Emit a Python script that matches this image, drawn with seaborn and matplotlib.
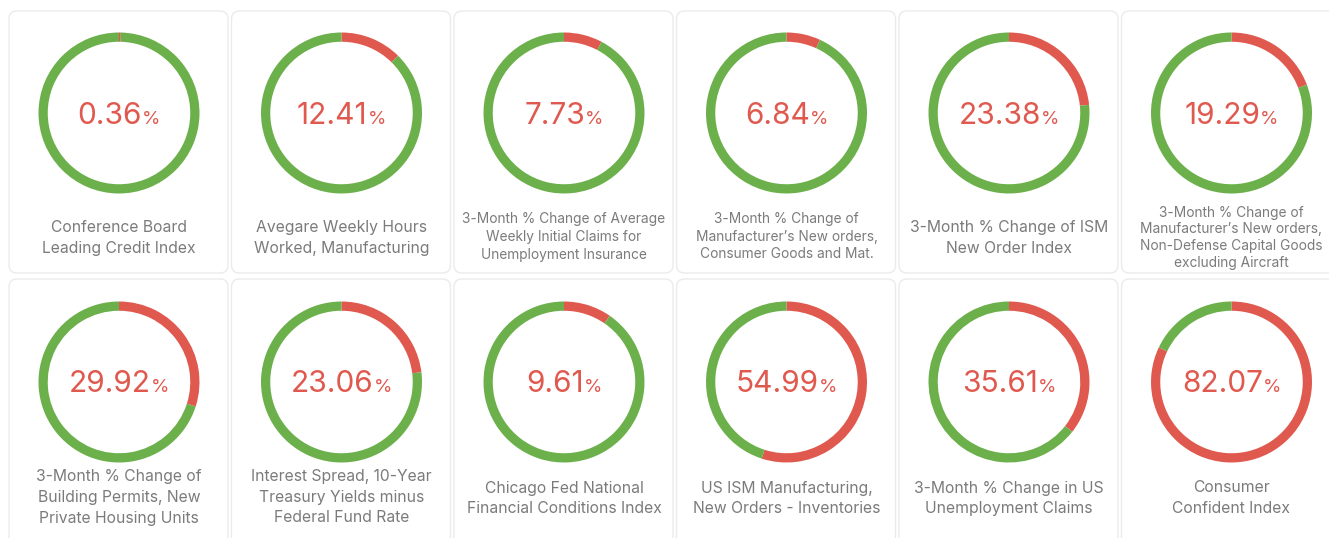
import matplotlib
matplotlib.use("Agg")
import matplotlib.pyplot as plt
import seaborn as sns
from matplotlib.patches import FancyBboxPatch

# share of each indicator that is red (rest is green)
values = [0.36, 12.41, 7.73, 6.84, 23.38, 19.29,
          29.92, 23.06, 9.61, 54.99, 35.61, 82.07]
labels = [
    "Conference Board\nLeading Credit Index",
    "Avegare Weekly Hours\nWorked, Manufacturing",
    "3-Month % Change of Average\nWeekly Initial Claims for\nUnemployment Insurance",
    "3-Month % Change of\nManufacturer\u2019s New orders,\nConsumer Goods and Mat.",
    "3-Month % Change of ISM\nNew Order Index",
    "3-Month % Change of\nManufacturer\u2019s New orders,\nNon-Defense Capital Goods\nexcluding Aircraft",
    "3-Month % Change of\nBuilding Permits, New\nPrivate Housing Units",
    "Interest Spread, 10-Year\nTreasury Yields minus\nFederal Fund Rate",
    "Chicago Fed National\nFinancial Conditions Index",
    "US ISM Manufacturing,\nNew Orders - Inventories",
    "3-Month % Change in US\nUnemployment Claims",
    "Consumer\nConfident Index",
]

RED = "#e0594f"
GREEN = "#6cb04b"
GREY = "#7b7b7b"

sns.set_theme(style="white")
plt.rcParams['font.family'] = ['Inter', 'DejaVu Sans']

W, H = 1329, 538
fig = plt.figure(figsize=(W / 100, H / 100), dpi=100)
fig.patch.set_facecolor("white")
bg = fig.add_axes([0, 0, 1, 1])
bg.set_xlim(0, W)
bg.set_ylim(H, 0)
bg.axis("off")

ncols = 6
card_x0, card_dx, card_w = 9, 222.5, 219
row_top = [11, 279]
row_h = [262, 280]
ring_cy = [113, 382]
ring_r = 80.5

renderer = fig.canvas.get_renderer()

for i, (val, lab) in enumerate(zip(values, labels)):
    r, c = divmod(i, ncols)
    x0 = card_x0 + c * card_dx
    cx = x0 + card_w / 2 + 0.5
    cy = ring_cy[r]
    bg.add_patch(FancyBboxPatch((x0, row_top[r]), card_w, row_h[r],
                                boxstyle="round,pad=0,rounding_size=8",
                                fc="white", ec="#ebebeb", lw=1))

    # donut
    ax = fig.add_axes([(cx - ring_r) / W, 1 - (cy + ring_r) / H,
                       2 * ring_r / W, 2 * ring_r / H])
    ax.pie([val, 100 - val], colors=[RED, GREEN], startangle=90,
           counterclock=False, radius=1,
           wedgeprops=dict(width=0.115, linewidth=0))
    ax.set_xlim(-1, 1)
    ax.set_ylim(-1, 1)
    ax.set_aspect("auto")
    ax.axis("off")

    # value text: number + small percent sign, centred together
    base = cy + 10.5
    t1 = bg.text(0, base, f"{val:.2f}", color=RED, fontsize=21.5,
                 ha="left", va="baseline")
    t2 = bg.text(0, base, "%", color=RED, fontsize=13.5,
                 ha="left", va="baseline")
    w1 = t1.get_window_extent(renderer).width
    w2 = t2.get_window_extent(renderer).width
    start = cx - (w1 + w2) / 2
    t1.set_x(start)
    t2.set_x(start + w1)

    # label
    lines = lab.split("\n")
    n = len(lines)
    if r == 0:
        if n == 2:
            fs, sp, y0 = 11.3, 21, 227.5
        elif n == 3:
            fs, sp, y0 = 9.9, 17.5, 219.5
        else:
            fs, sp, y0 = 9.9, 16.7, 212.5
    else:
        if n == 2:
            fs, sp, y0 = 11.3, 20.5, 488
        else:
            fs, sp, y0 = 11.3, 20.5, 477
    for k, line in enumerate(lines):
        bg.text(cx, y0 + k * sp, line, color=GREY, fontsize=fs,
                ha="center", va="center")

fig.savefig("out.png", dpi=100, facecolor="white")
